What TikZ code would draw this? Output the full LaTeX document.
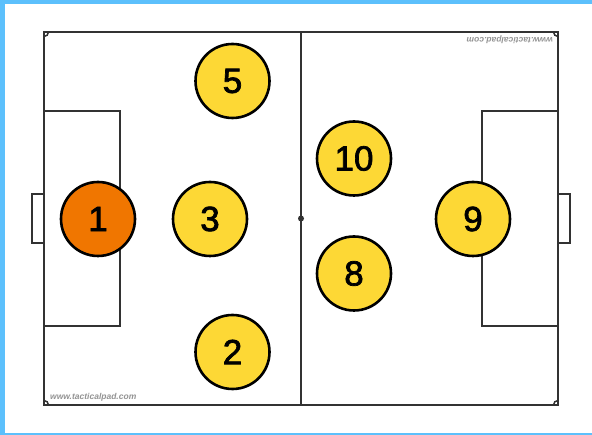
\documentclass[tikz,border=0pt]{standalone}
\usepackage{fontspec}
\setmainfont{Liberation Sans}
\newfontfamily\numfont[FakeBold=2]{Liberation Sans}
\definecolor{frameblue}{RGB}{92,192,252}
\definecolor{pyellow}{RGB}{253,216,53}
\definecolor{porange}{RGB}{240,118,0}
\definecolor{lineg}{RGB}{50,50,50}
\tikzset{
  fieldline/.style={draw=lineg, line width=1.5pt},
  player/.style={circle, draw=black, line width=2.6pt, fill=pyellow, minimum size=74pt, inner sep=0pt, font=\numfont\fontsize{35}{35}\selectfont},
  keeper/.style={player, fill=porange},
  wm/.style={font=\bfseries\itshape\fontsize{8.5}{8.5}\selectfont, text=gray!85, inner sep=0pt}
}
\begin{document}
\begin{tikzpicture}[x=1pt,y=-1pt]
\useasboundingbox (0,0) rectangle (592,435);
\fill[white] (0,0) rectangle (592,435);
% frame
\fill[frameblue] (0,0) rectangle (592,4);
\fill[frameblue] (0,0) rectangle (5,435);
\fill[frameblue] (0,433) rectangle (592,435);
% field
\draw[fieldline] (44,32) rectangle (558,405);
\draw[fieldline] (301,32) -- (301,405);
\fill[lineg] (301,218.5) circle (3pt);
% penalty boxes
\draw[fieldline] (44,111) rectangle (120,326);
\draw[fieldline] (558,111) rectangle (482,326);
% goals
\draw[fieldline] (44,194) -- (32,194) -- (32,243) -- (44,243);
\draw[fieldline] (558,194) -- (570,194) -- (570,243) -- (558,243);
% corner arcs
\begin{scope}
\clip (44,32) rectangle (558,405);
\foreach \c in {(44,32),(558,32),(44,405),(558,405)}
  \draw[fieldline] \c circle (4.5pt);
\end{scope}
% watermarks
\node[wm, anchor=west] (wm1) at (50,397) {www.tacticalpad.com};
\node[wm, anchor=west, rotate=180] (wm2) at (553,40) {www.tacticalpad.com};
% players
\node[keeper] (p1) at (98,219) {1};
\node[player] (p3) at (210,219) {3};
\node[player] (p5) at (232.5,81) {5};
\node[player] (p2) at (232.5,352) {2};
\node[player] (p10) at (354,158.5) {10};
\node[player] (p8) at (354,273.5) {8};
\node[player] (p9) at (473,219) {9};
\end{tikzpicture}
\end{document}
